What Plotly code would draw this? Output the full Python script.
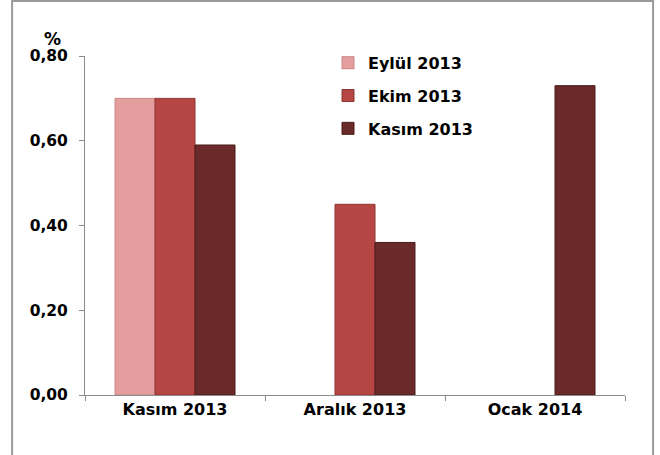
import plotly.graph_objects as go

categories = ["Kasım 2013", "Aralık 2013", "Ocak 2014"]
series_names = ["Eylül 2013", "Ekim 2013", "Kasım 2013"]
eylul_2013 = [0.70, None, None]
ekim_2013 = [0.70, 0.45, None]
kasim_2013 = [0.59, 0.36, 0.73]
y_ticks = [0.0, 0.2, 0.4, 0.6, 0.8]
y_tick_labels = ["0,00", "0,20", "0,40", "0,60", "0,80"]

colors = ["#E49E9D", "#B64644", "#6A2A29"]
edges = ["#C98685", "#8E3533", "#4A1C1B"]
font_family = "DejaVu Sans"

fig = go.Figure()
for i, (name, vals) in enumerate(zip(series_names, [eylul_2013, ekim_2013, kasim_2013])):
    fig.add_trace(go.Bar(
        x=categories, y=vals, name=name, legendgroup=name,
        marker=dict(color=colors[i], line=dict(color=edges[i], width=1)),
    ))

fig.update_layout(
    width=660, height=455,
    margin=dict(l=85, r=35, t=56, b=60),
    paper_bgcolor="white", plot_bgcolor="white",
    barmode="group", bargap=1/3, bargroupgap=0,
    font=dict(family=font_family, size=15, color="black"),
    showlegend=True,
    legend=dict(
        x=0.45, y=1.03, xanchor="left", yanchor="top",
        font=dict(family=font_family, size=16, color="black", weight="bold"),
        bgcolor="rgba(0,0,0,0)", tracegroupgap=9, traceorder="grouped",
    ),
    xaxis=dict(
        range=[-0.5, 2.5], showline=True, linecolor="#8C8C8C", linewidth=1,
        ticks="outside", tickson="boundaries", ticklen=5, tickcolor="#8C8C8C",
        tickfont=dict(family=font_family, size=16, color="black", weight="bold"),
        showgrid=False, zeroline=False, automargin=False,
    ),
    yaxis=dict(
        range=[0, 0.8], tickvals=y_ticks, ticktext=y_tick_labels,
        showline=True, linecolor="#8C8C8C", linewidth=1,
        ticks="outside", ticklen=5, tickcolor="#8C8C8C",
        tickfont=dict(family=font_family, size=15.5, color="black", weight="bold"),
        showgrid=False, zeroline=False, ticklabelstandoff=8, automargin=False,
    ),
    annotations=[dict(
        text="%", xref="paper", yref="paper", x=-0.08, y=1.085,
        showarrow=False, font=dict(family=font_family, size=17, color="black", weight="bold"),
    )],
    shapes=[dict(
        type="rect", xref="paper", yref="paper",
        x0=-0.135, x1=1.052, y0=-0.25, y1=1.162,
        line=dict(color="#9A9A9A", width=2), fillcolor="rgba(0,0,0,0)", layer="below",
    )],
)

fig.write_html("out.html", config={"displayModeBar": False},
               post_script="document.body.style.margin='0';")
